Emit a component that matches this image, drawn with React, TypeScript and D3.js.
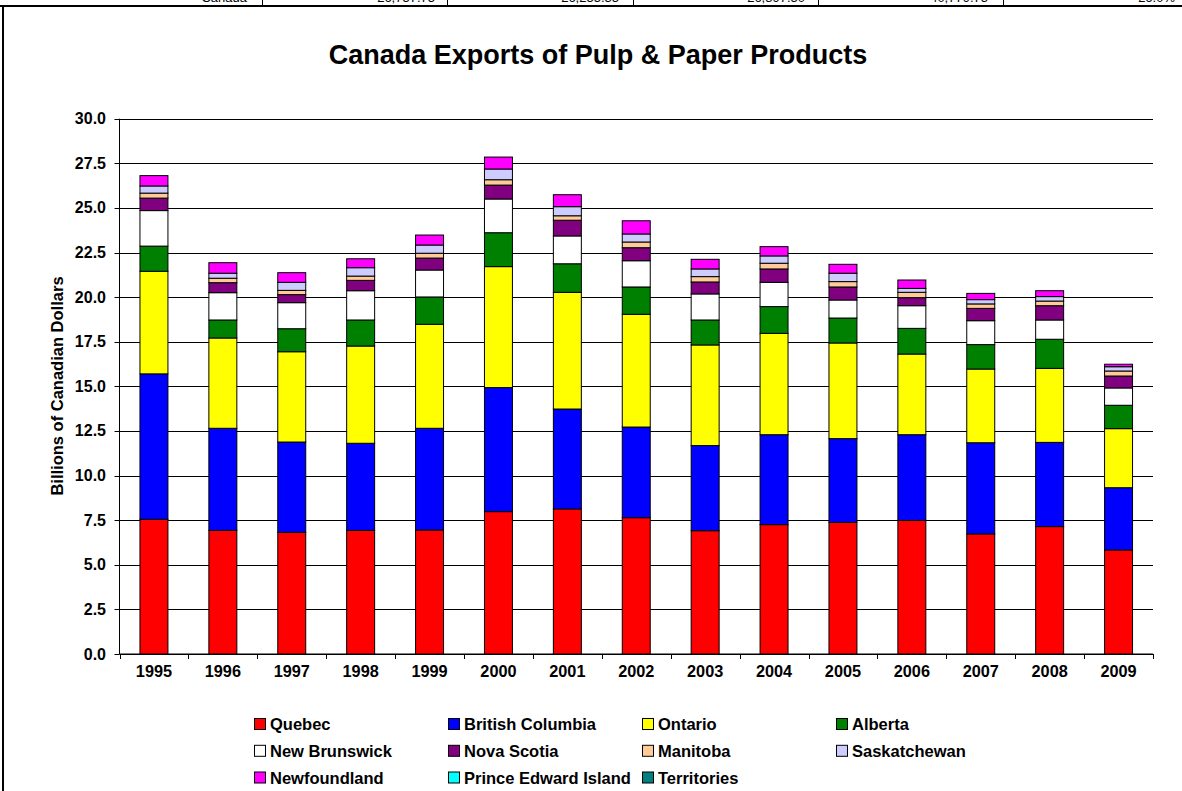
import React from "react";
import * as d3 from "d3";

const years = ["1995","1996","1997","1998","1999","2000","2001","2002","2003","2004","2005","2006","2007","2008","2009"];
const provinces = ["Quebec","British Columbia","Ontario","Alberta","New Brunswick","Nova Scotia","Manitoba","Saskatchewan","Newfoundland","Prince Edward Island","Territories"];
const colors = ["#FF0000","#0000FF","#FFFF00","#008000","#FFFFFF","#800080","#FFCC99","#CCCCFF","#FF00FF","#00FFFF","#008080"];

const quebec = [7.55,6.93,6.82,6.93,6.95,7.98,8.13,7.64,6.91,7.25,7.38,7.49,6.73,7.14,5.83];
const britishColumbia = [8.15,5.72,5.06,4.88,5.70,6.95,5.60,5.08,4.77,5.04,4.69,4.80,5.11,4.72,3.49];
const ontario = [5.75,5.06,5.06,5.45,5.83,6.78,6.54,6.32,5.64,5.68,5.36,4.52,4.13,4.15,3.31];
const alberta = [1.41,1.01,1.29,1.46,1.53,1.90,1.60,1.53,1.40,1.50,1.40,1.44,1.37,1.63,1.31];
const newBrunswick = [1.99,1.53,1.46,1.64,1.51,1.89,1.56,1.47,1.46,1.36,1.01,1.27,1.34,1.08,0.97];
const novaScotia = [0.70,0.56,0.45,0.58,0.67,0.78,0.88,0.73,0.67,0.75,0.73,0.45,0.69,0.80,0.67];
const manitoba = [0.28,0.25,0.24,0.24,0.27,0.30,0.25,0.32,0.30,0.32,0.30,0.30,0.25,0.26,0.28];
const saskatchewan = [0.40,0.28,0.45,0.47,0.46,0.60,0.51,0.45,0.43,0.41,0.47,0.22,0.24,0.25,0.24];
const newfoundland = [0.58,0.59,0.54,0.50,0.56,0.67,0.67,0.74,0.54,0.52,0.50,0.47,0.35,0.33,0.14];
const princeEdwardIsland = [0,0,0,0,0,0,0,0,0,0,0,0,0,0,0];
const territories = [0,0,0,0,0,0,0,0,0,0,0,0,0,0,0];

const yTicks = [0,2.5,5,7.5,10,12.5,15,17.5,20,22.5,25,27.5,30];

const tableRow = ["Canada","26,757.75","26,255.35","26,897.50","40,779.75","26.0%"];

const series = [quebec,britishColumbia,ontario,alberta,newBrunswick,novaScotia,manitoba,saskatchewan,newfoundland,princeEdwardIsland,territories];

const FONT = "Arial, 'Liberation Sans', sans-serif";

export default function App() {
  const W = 1182, H = 791;
  const left = 119.5, right = 1153, top = 118.7, bottom = 654;
  const x = d3.scaleBand<string>().domain(years).range([left, right]).paddingInner(0.594).paddingOuter(0.297);
  const y = d3.scaleLinear().domain([0, 30]).range([bottom, top]);
  const step = x.step();

  const table = years.map((yr, i) => {
    const o: any = { year: yr };
    provinces.forEach((p, k) => (o[p] = series[k][i]));
    return o;
  });
  const stacked = d3.stack<any>().keys(provinces)(table);

  const tableSeps = [262, 447, 633, 818, 1003];
  const tableTextX = [247, 435, 619, 805, 988, 1175];

  const legendCols = [254, 448, 642, 836];
  const legendRows = [724, 750.8, 777.5];

  return (
    <svg width={W} height={H} style={{ position: "absolute", left: 0, top: 0, background: "#fff" }} fontFamily={FONT}>
      <rect x={0} y={0} width={W} height={H} fill="#fff" />
      {/* cut-off table row at top */}
      {tableRow.map((t, i) => (
        <text key={t} x={tableTextX[i]} y={1.5} fontSize={13} textAnchor="end" fill="#000">{t}</text>
      ))}
      {tableSeps.map((sx) => (
        <line key={sx} x1={sx + 0.5} x2={sx + 0.5} y1={0} y2={6} stroke="#000" strokeWidth={1} />
      ))}
      <line x1={0} x2={W} y1={6} y2={6} stroke="#000" strokeWidth={2} />
      <line x1={3} x2={3} y1={6} y2={H} stroke="#000" strokeWidth={2} />

      {/* title */}
      <text x={598} y={64} fontSize={27} fontWeight="bold" textAnchor="middle">Canada Exports of Pulp &amp; Paper Products</text>

      {/* gridlines */}
      {yTicks.map((t) => (
        <line key={t} x1={left} x2={right} y1={Math.round(y(t)) + 0.5} y2={Math.round(y(t)) + 0.5} stroke="#000" strokeWidth={1} />
      ))}
      {/* y axis */}
      <line x1={left} x2={left} y1={top} y2={bottom} stroke="#000" strokeWidth={1} />
      {yTicks.map((t) => (
        <g key={"yt" + t}>
          <line x1={left - 5} x2={left} y1={Math.round(y(t)) + 0.5} y2={Math.round(y(t)) + 0.5} stroke="#000" />
          <text x={106} y={y(t) + 5.5} fontSize={16} fontWeight="bold" textAnchor="end">{t.toFixed(1)}</text>
        </g>
      ))}
      <text transform={`translate(62.5,386) rotate(-90)`} fontSize={16.5} fontWeight="bold" textAnchor="middle">Billions of Canadian Dollars</text>

      {/* x axis */}
      <line x1={left} x2={right} y1={bottom} y2={bottom} stroke="#000" strokeWidth={1} />
      {d3.range(years.length + 1).map((i) => (
        <line key={"xt" + i} x1={Math.round(left + i * step) + 0.5} x2={Math.round(left + i * step) + 0.5} y1={bottom} y2={bottom + 5} stroke="#000" />
      ))}
      {years.map((yr) => (
        <text key={yr} x={(x(yr) as number) + x.bandwidth() / 2} y={677} fontSize={16.3} fontWeight="bold" textAnchor="middle">{yr}</text>
      ))}

      {/* bars */}
      {stacked.map((s, k) => (
        <g key={provinces[k]} fill={colors[k]} stroke="#000" strokeWidth={1}>
          {s.map((d, i) => (
            <rect key={i} x={x(years[i]) as number} y={y(d[1])} width={x.bandwidth()} height={Math.max(0, y(d[0]) - y(d[1]))} />
          ))}
        </g>
      ))}

      {/* legend */}
      {provinces.map((p, k) => {
        const cx = legendCols[k % 4];
        const cy = legendRows[Math.floor(k / 4)];
        return (
          <g key={"lg" + p}>
            <rect x={cx + 0.5} y={cy - 5.5} width={11} height={11} fill={colors[k]} stroke="#000" strokeWidth={1} />
            <text x={cx + 16} y={cy + 6} fontSize={16.5} fontWeight="bold">{p}</text>
          </g>
        );
      })}
    </svg>
  );
}
